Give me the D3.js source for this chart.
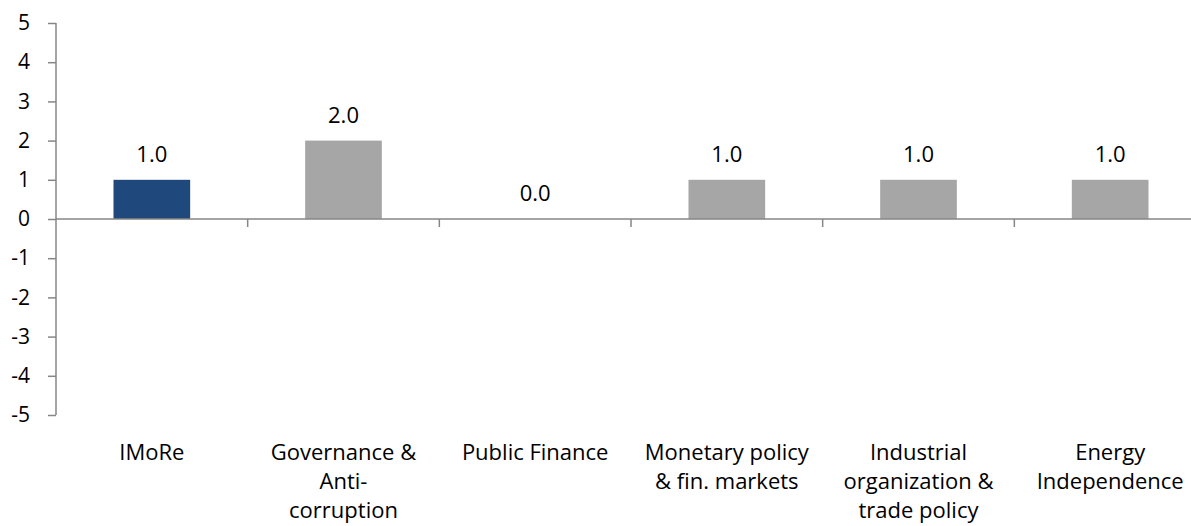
<!DOCTYPE html>
<html>
<head>
<meta charset="utf-8">
<script src="https://cdn.jsdelivr.net/npm/d3@7"></script>
<style>
  body { margin: 0; background: #fff; }
  text { font-family: "Open Sans", sans-serif; fill: #000; }
</style>
</head>
<body>
<script>
var w = 1191, h = 526;

// data
var categories = ["IMoRe", "Governance & Anti-corruption", "Public Finance",
  "Monetary policy & fin. markets", "Industrial organization & trade policy", "Energy Independence"];
var labelLines = [["IMoRe"], ["Governance &", "Anti-", "corruption"], ["Public Finance"],
  ["Monetary policy", "& fin. markets"], ["Industrial", "organization &", "trade policy"], ["Energy", "Independence"]];
var values = [1.0, 2.0, 0.0, 1.0, 1.0, 1.0];
var yTicks = [5, 4, 3, 2, 1, 0, -1, -2, -3, -4, -5];
var barColors = ["#1f497d", "#a6a6a6", "#a6a6a6", "#a6a6a6", "#a6a6a6", "#a6a6a6"];

var x = d3.scaleBand().domain(categories).range([56, 1206]).paddingInner(0.6).paddingOuter(0.3);
var xb = d3.scaleBand().domain(categories).range([56, 1206]);
var y = d3.scaleLinear().domain([-5, 5]).range([415, 23]);

const svg = d3.select("body").append("svg").attr("width", w).attr("height", h);

// bars
svg.selectAll("rect.bar").data(values).enter().append("rect")
  .attr("class", "bar")
  .attr("x", function (d, i) { return x(categories[i]); })
  .attr("width", x.bandwidth())
  .attr("y", function (d) { return y(Math.max(0, d)); })
  .attr("height", function (d) { return Math.abs(y(d) - y(0)); })
  .attr("fill", function (d, i) { return barColors[i]; });

// value labels
svg.selectAll("text.val").data(values).enter().append("text")
  .attr("class", "val")
  .attr("x", function (d, i) { return x(categories[i]) + x.bandwidth() / 2; })
  .attr("y", function (d) { return y(Math.max(0, d)) - 18; })
  .attr("text-anchor", "middle")
  .style("font-size", "22px")
  .text(function (d) { return d.toFixed(1); });

// y axis
var yAxis = svg.append("g").attr("transform", "translate(56,0)")
  .call(d3.axisLeft(y).tickValues(yTicks).tickSize(8).tickPadding(18).tickFormat(d3.format("d")));
yAxis.select(".domain").attr("stroke", "#868686").attr("stroke-width", 1.5).attr("d", "M0," + y(5) + "V" + y(-5));
yAxis.selectAll(".tick line").attr("stroke", "#868686").attr("stroke-width", 1.5);
yAxis.selectAll(".tick text").style("font-size", "21px").attr("fill", "#000").style("font-family", "Open Sans, sans-serif")
  .text(function (d) { return d < 0 ? "-" + Math.abs(d) : d; });

// x axis at zero
var xAxis = svg.append("g").attr("transform", "translate(0," + y(0) + ")");
xAxis.append("line").attr("x1", 56).attr("x2", 1206).attr("stroke", "#868686").attr("stroke-width", 1.5);
xAxis.selectAll("line.tk").data(categories.slice(1)).enter().append("line")
  .attr("class", "tk")
  .attr("x1", function (d) { return xb(d); }).attr("x2", function (d) { return xb(d); })
  .attr("y1", 0).attr("y2", 8)
  .attr("stroke", "#868686").attr("stroke-width", 1.5);

// category labels
var cat = svg.selectAll("text.cat").data(labelLines).enter().append("text")
  .attr("class", "cat")
  .attr("text-anchor", "middle")
  .style("font-size", "22px")
  .attr("transform", function (d, i) { return "translate(" + (xb(categories[i]) + xb.bandwidth() / 2) + ",460)"; });
cat.selectAll("tspan").data(function (d) { return d; }).enter().append("tspan")
  .attr("x", 0).attr("dy", function (d, j) { return j === 0 ? 0 : 29; })
  .text(function (d) { return d; });
</script>
</body>
</html>
